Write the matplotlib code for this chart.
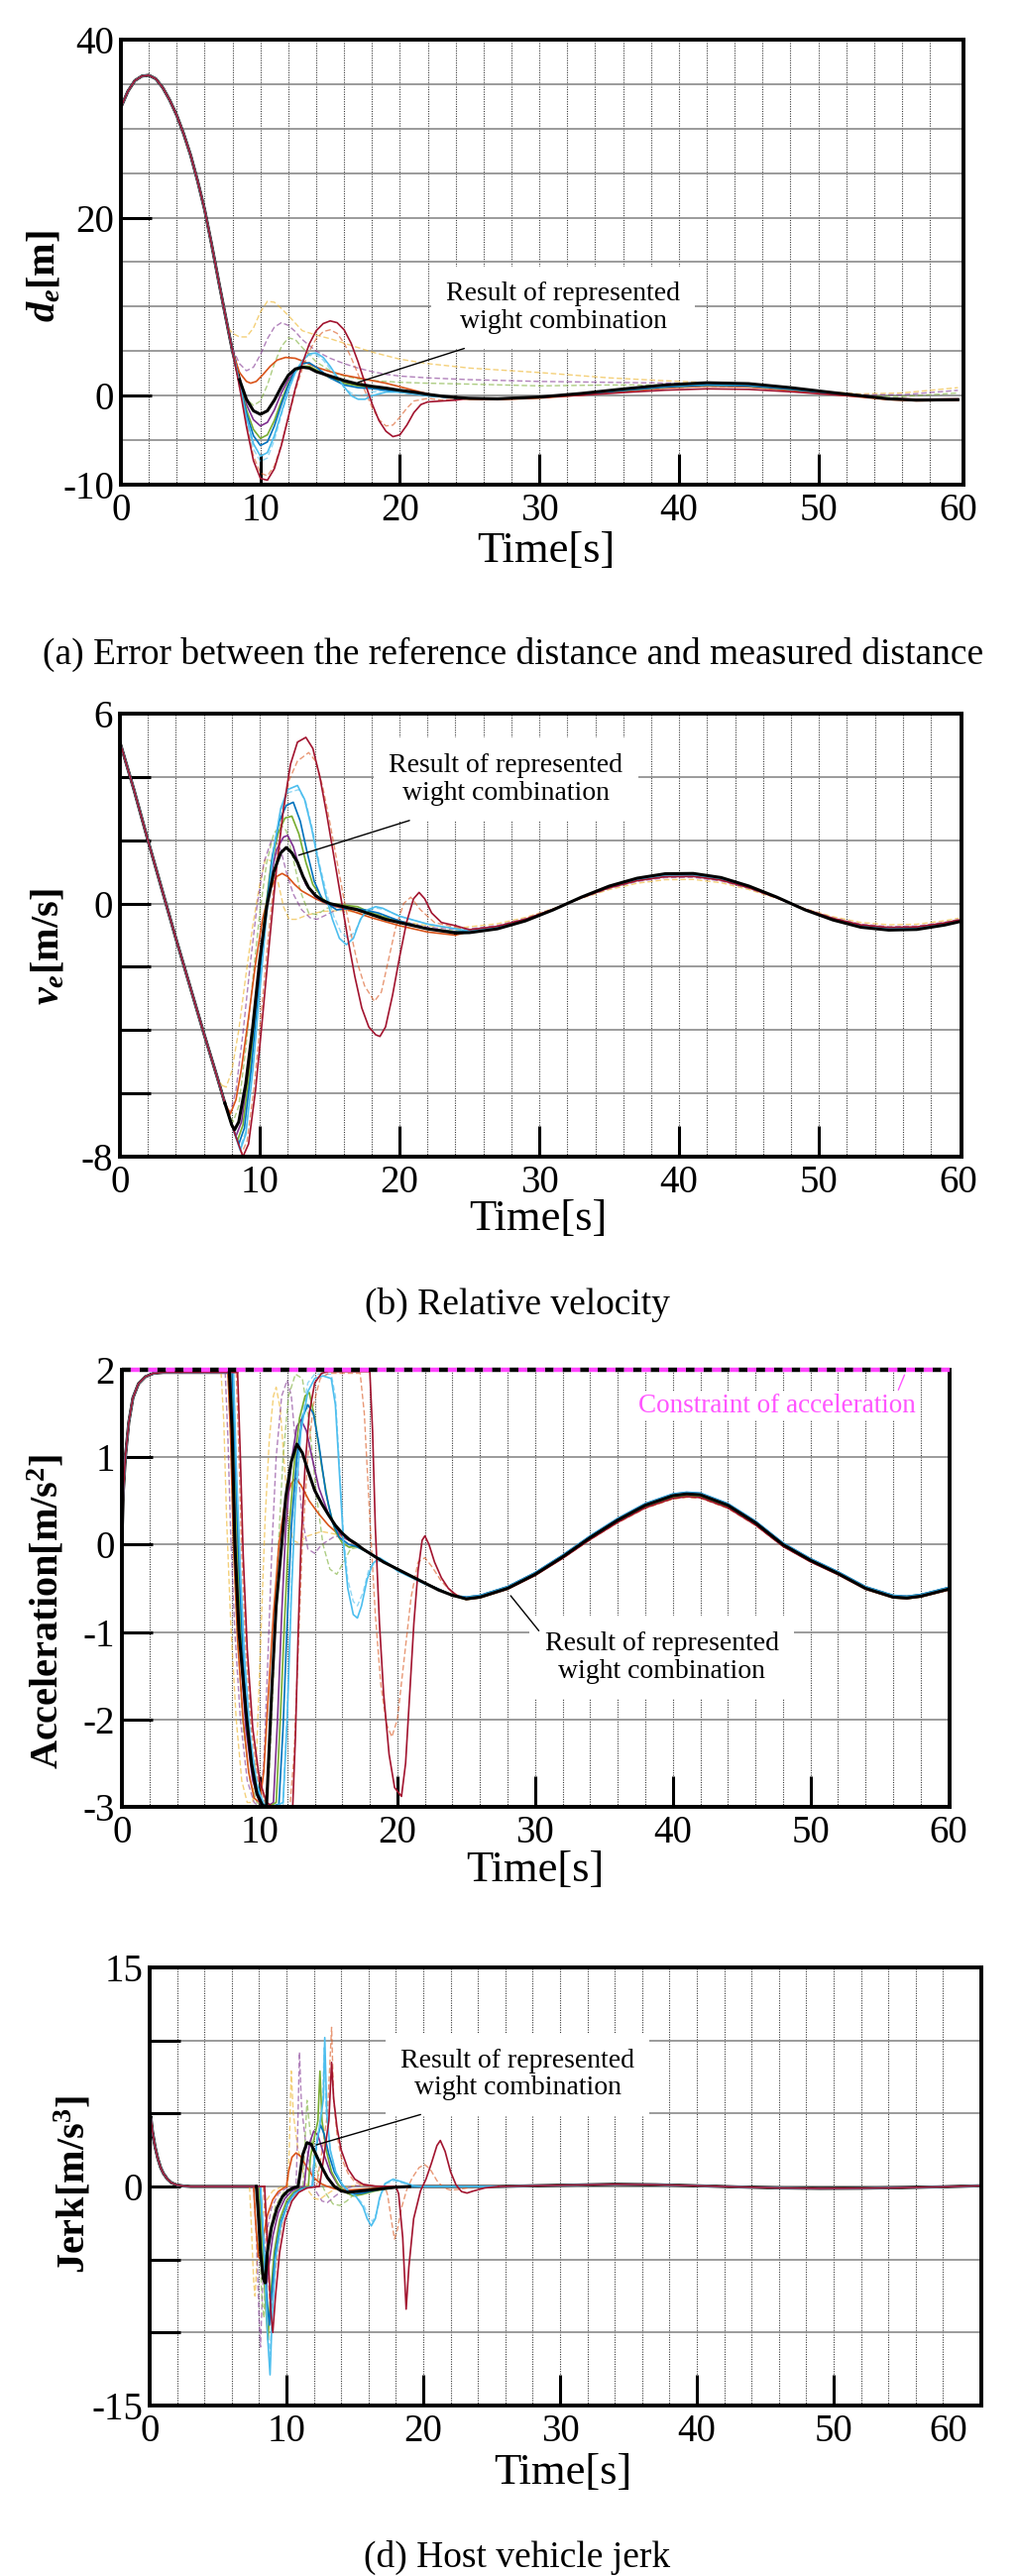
import numpy as np
import matplotlib.pyplot as plt

plt.rcParams['font.family'] = ['Liberation Serif', 'DejaVu Serif']
plt.rcParams['mathtext.fontset'] = 'custom'
plt.rcParams['mathtext.it'] = 'Liberation Serif:italic:bold'
plt.rcParams['mathtext.rm'] = 'Liberation Serif:bold'
plt.rcParams['mathtext.bf'] = 'Liberation Serif:bold'

W, H = 1027, 2599

# draw order: dashed runs first, solid runs, the represented (black) run on top
names = ['y_d', 'p_d', 'g_d', 'c_d', 'o_d', 'orange', 'purple', 'green', 'blue', 'cyan', 'red', 'black']
colors = ['#EDB120', '#7E2F8E', '#77AC30', '#4DBEEE', '#D95319',
          '#D95319', '#7E2F8E', '#77AC30', '#0072BD', '#4DBEEE', '#A2142F', 'black']

# ---------------- (a) distance error d_e [m] ----------------
de_head_t = [0, 0.5, 1, 1.5, 2, 2.5, 3, 3.5, 4, 4.5, 5, 5.5, 6, 6.5, 7, 7.5, 8]
de_head_v = [32.4, 34.2, 35.4, 35.9, 36.0, 35.6, 34.6, 33.2, 31.5, 29.4, 27.0, 24.1, 20.9, 17.0, 12.9, 8.9, 5.0]
de_tail_t = [25, 27, 30, 33, 36, 39, 42, 45, 48, 51, 53, 55, 57, 60]
de_tail_v = [-0.3, -0.35, -0.15, 0.25, 0.75, 1.2, 1.45, 1.35, 0.9, 0.35, 0.0, -0.35, -0.5, -0.45]
de_tail_gain = [1, 1, 1, 0.9, 0.8, 0.85, 0.9, 0.85, 0.85, 0.9, 0.6, 1]
de_tail_off = [0, 0, 0, -0.05, -0.1, -0.15, -0.05, -0.05, -0.05, 0.0, -0.1, 0]

de_black = [(8.5, 1.8), (9, -0.4), (9.5, -1.7), (10, -2.1), (10.5, -1.7), (11, -0.5), (11.5, 1.0), (12, 2.3),
            (12.5, 3.0), (13, 3.2), (13.5, 3.1), (14, 2.7), (15, 2.2), (16, 1.7), (17, 1.3), (18, 1.05),
            (19, 0.85), (20, 0.6), (21, 0.4), (22, 0.15), (23, -0.05), (24, -0.2)]
de_orange = [(8.5, 2.6), (9, 1.6), (9.3, 1.4), (9.7, 1.6), (10.2, 2.4), (10.7, 3.3), (11.2, 4.0), (11.8, 4.3),
             (12.5, 4.2), (13, 3.9), (14, 3.2), (15, 2.7), (16, 2.3), (17, 2.0), (18, 1.7), (19, 1.4),
             (20, 1.0), (21, 0.6), (22, 0.2), (23, -0.1), (24, -0.3)]
de_purple = [(8.5, 1.6), (9, -1.0), (9.5, -2.7), (10, -3.4), (10.5, -3.0), (11, -1.6), (11.5, 0.3), (12, 1.8),
             (12.5, 2.8), (13, 3.2), (13.5, 3.1), (14, 2.8), (15, 2.0), (16, 1.5), (17, 1.2), (18, 1.0),
             (19, 0.8), (20, 0.5), (22, 0.0), (24, -0.25)]
de_green = [(8.5, 1.5), (9, -1.6), (9.5, -3.8), (10, -4.8), (10.5, -4.4), (11, -2.8), (11.5, -0.6), (12, 1.4),
            (12.5, 2.7), (13, 3.3), (13.5, 3.3), (14, 2.9), (15, 2.0), (16, 1.4), (17, 1.1), (18, 0.9),
            (19, 0.7), (20, 0.5), (22, 0.0), (24, -0.25)]
de_blue = [(8.5, 1.4), (9, -2.0), (9.5, -4.5), (10, -5.6), (10.5, -5.2), (11, -3.4), (11.5, -1.0), (12, 1.2),
           (12.5, 2.8), (13, 3.6), (13.5, 3.7), (14, 3.2), (15, 2.0), (16, 1.2), (17, 0.9), (18, 0.8),
           (19, 0.6), (20, 0.4), (22, 0.0), (24, -0.25)]
de_cyan = [(8.5, 1.3), (9, -2.5), (9.5, -5.4), (10, -6.8), (10.5, -6.4), (11, -4.5), (11.5, -1.9), (12, 0.6),
           (12.5, 2.6), (13, 3.9), (13.5, 4.7), (14, 4.8), (14.5, 4.3), (15, 3.3), (15.5, 2.1), (16, 1.0),
           (16.5, 0.0), (17, -0.4), (17.5, -0.4), (18, 0.0), (19, 0.4), (20, 0.4), (22, 0.0), (24, -0.25)]
de_red = [(8.5, 1.0), (9, -3.5), (9.5, -7.3), (10, -9.3), (10.5, -9.5), (11, -8.2), (11.5, -5.6), (12, -2.4),
          (12.5, 0.8), (13, 3.6), (13.5, 5.8), (14, 7.3), (14.5, 8.1), (15, 8.4), (15.5, 8.2), (16, 7.4),
          (16.5, 5.9), (17, 3.8), (17.5, 1.4), (18, -0.9), (18.5, -2.8), (19, -4.0), (19.5, -4.6), (20, -4.4),
          (20.5, -3.3), (21, -1.9), (21.5, -1.0), (22, -0.7), (23, -0.6), (24, -0.5)]
de_y_d = [(7.7, 7.6), (8, 7.0), (8.5, 6.6), (9, 6.6), (9.5, 7.6), (10, 9.4), (10.5, 10.6), (11, 10.5),
          (11.5, 9.8), (12, 9.0), (13, 7.3), (14, 6.8), (15, 6.4), (16, 5.9), (17, 5.4), (18, 4.9), (19, 4.5),
          (20, 4.1), (22, 3.6), (25, 3.1), (30, 2.6), (35, 2.0), (40, 1.6), (45, 1.3), (50, 0.5), (53, 0.2),
          (56, 0.3), (60, 0.9)]
de_p_d = [(8, 5.3), (8.5, 3.6), (9, 2.8), (9.5, 3.2), (10, 4.6), (10.5, 6.4), (11, 7.7), (11.5, 8.2), (12, 7.9),
          (12.5, 7.2), (13, 6.3), (14, 5.0), (15, 4.2), (16, 3.6), (17, 3.1), (18, 2.7), (19, 2.4), (20, 2.2),
          (22, 2.0), (25, 1.8), (30, 1.6), (35, 1.5), (40, 1.4), (45, 1.3), (50, 0.5), (53, 0.1), (56, 0.1),
          (60, 0.6)]
de_g_d = [(8.5, 1.8), (9, -0.4), (9.5, -1.1), (10, -0.6), (10.5, 1.2), (11, 3.6), (11.5, 5.5), (12, 6.5),
          (12.5, 6.3), (13, 5.4), (14, 3.8), (15, 2.8), (16, 2.2), (17, 1.9), (18, 1.7), (20, 1.5), (22, 1.4),
          (25, 1.3), (30, 1.1), (35, 1.2), (40, 1.2), (45, 1.1), (50, 0.5), (53, 0.0), (56, -0.1), (60, 0.3)]
de_c_d = [(8.5, 1.2), (9, -2.8), (9.5, -6.0), (10, -7.4), (10.5, -7.0), (11, -5.0), (11.5, -2.2), (12, 0.5),
          (12.5, 2.6), (13, 4.0), (13.5, 4.6), (14, 4.6), (14.5, 4.0), (15, 3.0), (15.5, 1.9), (16, 0.9),
          (16.5, 0.3), (17, 0.0), (17.5, 0.1), (18, 0.4), (19, 0.6), (20, 0.5), (22, 0.0), (24, -0.2)]
de_o_d = [(8.5, 1.1), (9, -3.2), (9.5, -6.8), (10, -8.7), (10.5, -9.0), (11, -7.9), (11.5, -5.5), (12, -2.5),
          (12.5, 0.5), (13, 3.0), (13.5, 5.0), (14, 6.4), (14.5, 7.2), (15, 7.4), (15.5, 7.0), (16, 5.9),
          (16.5, 4.3), (17, 2.4), (17.5, 0.5), (18, -1.3), (18.5, -2.7), (19, -3.4), (19.5, -3.3), (20, -2.4),
          (20.5, -1.4), (21, -0.6), (22, -0.3), (23, -0.5), (24, -0.4)]

# ---------------- (b) relative velocity v_e [m/s] ----------------
ve_head_t = [0, 1, 2, 3, 4, 5, 6, 7]
ve_head_v = [5.1, 3.6, 2.0, 0.45, -1.1, -2.6, -4.1, -5.55]
ve_tail_t = [25, 27, 29, 31, 33, 35, 37, 39, 41, 43, 45, 47, 49, 51, 53, 55, 57, 59, 60]
ve_tail_v = [-0.92, -0.8, -0.55, -0.2, 0.2, 0.55, 0.8, 0.94, 0.95, 0.82, 0.55, 0.2, -0.2, -0.52, -0.75,
             -0.84, -0.82, -0.68, -0.58]
ve_tail_gain = [0.8, 0.87, 0.92, 0.95, 0.93, 0.96, 0.95, 0.97, 0.96, 0.94, 0.9, 1]
ve_tail_off = [0.0, 0.0, 0.0, 0.0, 0.0, 0.0, 0.0, 0.0, 0.0, 0.0, 0.0, 0.0]

ve_black = [(7.5, -6.3), (8.0, -7.0), (8.2, -7.15), (8.5, -6.9), (9, -5.7), (9.5, -3.9), (10, -1.8), (10.5, -0.1),
            (11, 1.0), (11.5, 1.6), (11.9, 1.77), (12.3, 1.6), (12.7, 1.3), (13.1, 0.85), (13.5, 0.5),
            (14, 0.25), (14.5, 0.1), (15, 0.0), (16, -0.1), (17, -0.2), (18, -0.35), (19, -0.5), (20, -0.6),
            (22, -0.8), (24, -0.93)]
ve_orange = [(7.5, -6.3), (7.9, -6.65), (8.3, -6.2), (8.7, -5.2), (9.2, -3.6), (9.7, -1.9), (10.2, -0.5),
             (10.7, 0.4), (11.2, 0.85), (11.6, 0.95), (12, 0.85), (12.5, 0.6), (13, 0.4), (14, 0.15), (15, -0.05),
             (16, -0.15), (17, -0.3), (18, -0.45), (20, -0.7), (22, -0.9), (24, -1.0)]
ve_purple = [(7.5, -6.3), (8, -7.0), (8.3, -7.35), (8.7, -6.9), (9.2, -5.3), (9.7, -3.2), (10.2, -1.0),
             (10.7, 0.7), (11.2, 1.7), (11.7, 2.1), (12.0, 2.15), (12.4, 1.8), (12.8, 1.2), (13.3, 0.6),
             (14, 0.2), (15, -0.05), (16, -0.12), (17, -0.2), (18, -0.35), (20, -0.6), (22, -0.8), (24, -0.9)]
ve_green = [(7.5, -6.3), (8, -7.0), (8.4, -7.5), (8.8, -7.0), (9.3, -5.2), (9.8, -2.9), (10.3, -0.6),
            (10.8, 1.2), (11.3, 2.2), (11.8, 2.7), (12.3, 2.76), (12.8, 2.2), (13.3, 1.3), (13.8, 0.6),
            (14.5, 0.15), (15, 0.0), (16, -0.05), (17, -0.1), (18, -0.3), (20, -0.6), (22, -0.8), (24, -0.9)]
ve_blue = [(7.5, -6.3), (8, -7.0), (8.5, -7.6), (8.9, -7.1), (9.4, -5.2), (9.9, -2.8), (10.4, -0.4),
           (10.9, 1.5), (11.4, 2.6), (11.9, 3.1), (12.4, 3.2), (12.9, 2.6), (13.4, 1.6), (13.9, 0.7),
           (14.5, 0.1), (15.5, -0.2), (16.5, -0.15), (17.5, -0.2), (18.5, -0.3), (20, -0.55), (22, -0.8),
           (24, -0.9)]
ve_cyan = [(7.5, -6.3), (8, -7.0), (8.6, -7.8), (9.0, -7.3), (9.5, -5.3), (10, -2.8), (10.5, -0.3), (11, 1.7),
           (11.5, 3.0), (12, 3.6), (12.7, 3.73), (13.2, 3.3), (13.7, 2.4), (14.2, 1.3), (14.7, 0.3),
           (15.2, -0.5), (15.7, -1.1), (16.2, -1.3), (16.7, -1.1), (17.2, -0.5), (17.7, -0.2), (18.3, -0.1),
           (18.8, -0.15), (19.5, -0.3), (20, -0.4), (22, -0.65), (24, -0.8)]
ve_red = [(7.5, -6.3), (8, -7.0), (8.8, -8.0), (9.2, -7.6), (9.7, -5.9), (10.2, -3.6), (10.7, -1.2),
          (11.2, 1.1), (11.7, 3.0), (12.2, 4.4), (12.7, 5.1), (13.3, 5.25), (13.8, 4.9), (14.3, 4.0),
          (14.8, 2.8), (15.3, 1.5), (15.8, 0.2), (16.3, -1.1), (16.8, -2.3), (17.3, -3.3), (17.8, -3.9),
          (18.3, -4.15), (18.6, -4.2), (19, -3.9), (19.5, -2.9), (20, -1.7), (20.5, -0.6), (21, 0.15),
          (21.4, 0.35), (21.8, 0.15), (22.3, -0.3), (23, -0.6), (24, -0.7)]
ve_y_d = [(7.3, -5.75), (7.6, -5.8), (8.0, -5.3), (8.5, -4.0), (9.0, -2.3), (9.5, -0.7), (10, 0.6),
          (10.4, 1.4), (10.8, 1.35), (11.3, 0.7), (11.7, -0.1), (12.1, -0.5), (12.6, -0.5), (13.5, -0.35),
          (14.5, -0.25), (16, -0.22), (18, -0.35), (20, -0.55), (22, -0.7), (24, -0.78)]
ve_p_d = [(7.5, -6.3), (7.9, -6.6), (8.3, -5.9), (8.8, -4.1), (9.3, -2.0), (9.8, -0.1), (10.3, 1.3),
          (10.8, 1.95), (11.1, 2.0), (11.5, 1.7), (11.9, 1.0), (12.4, 0.3), (13, -0.2), (13.6, -0.45),
          (14.1, -0.5), (14.8, -0.35), (15.5, -0.2), (16.5, -0.12), (17.5, -0.2), (18.5, -0.35), (20, -0.55),
          (22, -0.75), (24, -0.82)]
ve_g_d = [(7.5, -6.3), (8.1, -6.9), (8.5, -6.4), (9.0, -4.6), (9.5, -2.4), (10.0, -0.3), (10.5, 1.3),
          (11.0, 2.2), (11.5, 2.5), (11.9, 2.3), (12.4, 1.4), (12.9, 0.4), (13.5, -0.3), (14.1, -0.35),
          (14.8, -0.15), (15.5, -0.1), (16.5, -0.1), (17.5, -0.2), (18.5, -0.35), (20, -0.55), (22, -0.8),
          (24, -0.86)]
ve_c_d = [(7.5, -6.3), (8, -7.0), (8.6, -7.7), (9.0, -7.2), (9.5, -5.2), (10, -2.7), (10.5, -0.2), (11, 1.7),
          (11.5, 2.9), (12, 3.5), (12.8, 3.6), (13.3, 3.2), (13.8, 2.3), (14.3, 1.2), (14.8, 0.3),
          (15.3, -0.4), (15.8, -0.9), (16.3, -1.1), (16.8, -0.9), (17.3, -0.45), (17.8, -0.2), (18.4, -0.15),
          (19, -0.2), (20, -0.4), (22, -0.65), (24, -0.8)]
ve_o_d = [(7.5, -6.3), (8, -7.0), (8.7, -7.9), (9.1, -7.5), (9.6, -5.8), (10.1, -3.5), (10.6, -1.1),
          (11.1, 1.0), (11.6, 2.7), (12.1, 3.9), (12.7, 4.5), (13.5, 4.77), (14.0, 4.5), (14.5, 3.7),
          (15.0, 2.6), (15.5, 1.4), (16.0, 0.2), (16.5, -0.9), (17.0, -1.9), (17.5, -2.6), (18.2, -3.09),
          (18.7, -2.8), (19.2, -1.8), (19.7, -0.8), (20.3, 0.0), (20.8, 0.2), (21.5, -0.2), (22.5, -0.6),
          (24, -0.75)]

# ---------------- (c) host acceleration [m/s^2] ----------------
acc_limit = 2.0
acc_head_t = [0, 0.1, 0.25, 0.5, 0.8, 1.2, 1.7, 2.3, 3, 7.2]
acc_head_v = [0, 0.6, 1.0, 1.4, 1.68, 1.84, 1.92, 1.96, 1.97, 1.97]
acc_tail_t = [25, 26, 28, 30, 32, 34, 36, 38, 40, 41, 42, 44, 46, 48, 50, 52, 54, 56, 57, 58, 60]
acc_tail_v = [-0.62, -0.6, -0.5, -0.34, -0.14, 0.08, 0.28, 0.45, 0.56, 0.58, 0.57, 0.45, 0.25, 0.0, -0.18,
              -0.33, -0.5, -0.6, -0.61, -0.59, -0.51]
acc_tail_gain = [0.97, 0.98, 0.98, 0.99, 0.97, 0.98, 0.99, 0.99, 1.0, 1.0, 0.98, 1]
acc_tail_off = [-0.02, -0.015, 0.01, 0.015, -0.02, -0.01, 0.01, -0.015, 0.02, 0.015, -0.02, 0]

acc_black = [(7.8, 1.97), (8.0, 1.3), (8.2, 0.0), (8.5, -1.0), (9.0, -1.9), (9.4, -2.5), (9.8, -2.85),
             (10.2, -2.98), (10.5, -3.0), (10.9, -1.6), (11.2, -0.7), (11.6, 0.0), (11.9, 0.55), (12.3, 0.95),
             (12.7, 1.15), (13.1, 1.05), (13.5, 0.85), (14, 0.62), (14.5, 0.47), (15, 0.34), (15.5, 0.22),
             (16, 0.13), (16.5, 0.06), (17, 0.01), (17.5, -0.05), (18, -0.1), (19, -0.2), (20, -0.28),
             (21, -0.36), (22, -0.44), (23, -0.52), (24, -0.58)]
acc_orange = [(7.7, 1.97), (7.9, 1.2), (8.1, 0.0), (8.4, -1.1), (8.8, -2.0), (9.2, -2.6), (9.6, -2.9),
              (10.0, -2.95), (10.3, -2.6), (10.6, -1.8), (11.0, -0.8), (11.4, 0.0), (11.8, 0.45), (12.3, 0.7),
              (12.6, 0.76), (13, 0.68), (13.6, 0.5), (14.3, 0.35), (15, 0.22), (15.5, 0.15), (16, 0.1),
              (16.5, 0.05), (17, 0.0), (18, -0.1), (19, -0.2), (20, -0.28), (22, -0.44), (24, -0.58)]
acc_purple = [(7.9, 1.97), (8.1, 1.1), (8.3, -0.1), (8.6, -1.2), (9.0, -2.1), (9.5, -2.7), (10.0, -2.95),
              (10.5, -3.0), (11.0, -2.95), (11.3, -2.0), (11.6, -0.8), (11.9, 0.2), (12.3, 0.95), (12.7, 1.35),
              (13.0, 1.43), (13.4, 1.3), (13.8, 1.0), (14.3, 0.65), (15, 0.35), (15.5, 0.2), (16, 0.1),
              (17, 0.0), (18, -0.1), (20, -0.28), (22, -0.44), (24, -0.58)]
acc_green = [(8.0, 1.97), (8.2, 1.0), (8.4, -0.1), (8.7, -1.2), (9.1, -2.1), (9.6, -2.7), (10.1, -2.95),
             (10.6, -3.0), (11.2, -2.95), (11.5, -2.0), (11.8, -0.9), (12.1, 0.1), (12.5, 0.9), (12.9, 1.45),
             (13.3, 1.7), (13.6, 1.74), (14.0, 1.45), (14.5, 0.9), (15, 0.45), (15.5, 0.15), (16, 0.02),
             (16.5, -0.03), (17, -0.02), (18, -0.1), (20, -0.28), (22, -0.44), (24, -0.58)]
acc_blue = [(8.0, 1.97), (8.25, 0.9), (8.5, -0.2), (8.8, -1.3), (9.2, -2.2), (9.7, -2.75), (10.2, -2.97),
            (10.8, -3.0), (11.4, -2.97), (11.7, -2.1), (12.0, -0.9), (12.3, 0.2), (12.7, 1.0), (13.1, 1.45),
            (13.5, 1.6), (13.9, 1.5), (14.3, 1.15), (14.8, 0.6), (15.3, 0.25), (15.8, 0.08), (16.5, 0.0),
            (17, -0.02), (18, -0.1), (20, -0.28), (22, -0.44), (24, -0.58)]
acc_cyan = [(8.1, 1.97), (8.3, 0.9), (8.6, -0.3), (8.9, -1.3), (9.3, -2.2), (9.8, -2.75), (10.3, -2.97),
            (11.0, -3.0), (11.7, -2.95), (12.0, -2.0), (12.3, -0.6), (12.6, 0.5), (13.0, 1.3), (13.5, 1.75),
            (14.0, 1.9), (14.6, 1.93), (15.2, 1.9), (15.5, 1.6), (15.8, 0.8), (16.1, 0.0), (16.4, -0.5),
            (16.8, -0.8), (17.1, -0.84), (17.4, -0.7), (17.8, -0.4), (18.2, -0.22), (18.7, -0.15),
            (19.2, -0.2), (20, -0.3), (22, -0.45), (24, -0.58)]
acc_red = [(8.4, 1.97), (8.6, 1.0), (8.8, -0.1), (9.1, -1.2), (9.5, -2.1), (10.0, -2.7), (10.5, -2.95),
           (11.0, -3.0), (12.4, -3.0), (12.6, -2.2), (12.8, -1.0), (13.0, 0.0), (13.3, 0.9), (13.6, 1.5),
           (14.0, 1.85), (14.5, 1.96), (15, 1.98), (18.0, 1.98), (18.2, 1.3), (18.4, 0.2), (18.7, -0.9),
           (19.0, -1.7), (19.4, -2.4), (19.8, -2.78), (20.3, -2.88), (20.6, -2.5), (20.9, -1.7), (21.2, -0.9),
           (21.5, -0.3), (21.8, 0.05), (22.0, 0.1), (22.3, 0.0), (22.7, -0.2), (23.2, -0.38), (23.7, -0.5),
           (24.3, -0.58)]
acc_y_d = [(7.2, 1.97), (7.4, 1.4), (7.6, 0.3), (7.9, -0.9), (8.3, -2.0), (8.7, -2.7), (9.1, -2.95),
           (9.5, -2.95), (9.8, -2.3), (10.1, -1.0), (10.4, 0.3), (10.7, 1.2), (11.0, 1.7), (11.2, 1.8),
           (11.5, 1.55), (11.8, 0.9), (12.1, 0.3), (12.4, 0.05), (12.8, 0.02), (13.5, 0.1), (14.5, 0.15),
           (15.5, 0.12), (16.5, 0.05), (17.5, -0.05), (18, -0.1), (20, -0.28), (22, -0.44), (24, -0.58)]
acc_p_d = [(7.5, 1.97), (7.7, 1.2), (7.9, 0.1), (8.2, -1.0), (8.6, -2.0), (9.1, -2.7), (9.6, -2.95),
           (10.0, -3.0), (10.3, -2.5), (10.6, -1.3), (10.9, 0.0), (11.2, 1.0), (11.6, 1.7), (12.0, 1.88),
           (12.3, 1.7), (12.7, 1.0), (13.1, 0.3), (13.5, -0.05), (14, -0.1), (14.5, 0.0), (15.5, 0.1),
           (16.5, 0.05), (17.5, -0.05), (18, -0.1), (20, -0.28), (22, -0.44), (24, -0.58)]
acc_g_d = [(7.7, 1.97), (7.9, 1.2), (8.1, 0.0), (8.4, -1.1), (8.8, -2.1), (9.3, -2.7), (9.8, -2.95),
           (10.3, -3.0), (10.7, -2.6), (11.0, -1.5), (11.3, -0.2), (11.7, 1.0), (12.1, 1.7), (12.6, 1.95),
           (13.1, 1.9), (13.6, 1.4), (14.1, 0.6), (14.6, 0.0), (15.1, -0.28), (15.6, -0.34), (16.1, -0.2),
           (16.6, -0.05), (17.2, -0.03), (18, -0.1), (20, -0.28), (22, -0.44), (24, -0.58)]
acc_c_d = [(8.1, 1.97), (8.3, 0.9), (8.6, -0.3), (9.0, -1.5), (9.5, -2.4), (10.0, -2.85), (10.6, -3.0),
           (11.7, -3.0), (12.0, -1.9), (12.3, -0.5), (12.6, 0.6), (13.0, 1.4), (13.5, 1.85), (14.0, 1.95),
           (15.2, 1.95), (15.5, 1.7), (15.8, 0.9), (16.1, 0.1), (16.4, -0.4), (16.8, -0.65), (17.1, -0.7),
           (17.5, -0.55), (17.9, -0.3), (18.4, -0.2), (19, -0.18), (20, -0.3), (22, -0.45), (24, -0.58)]
acc_o_d = [(8.3, 1.97), (8.5, 1.0), (8.7, -0.1), (9.0, -1.2), (9.4, -2.1), (9.9, -2.7), (10.4, -2.95),
           (11, -3.0), (12.2, -3.0), (12.5, -2.4), (12.8, -1.2), (13.1, 0.0), (13.5, 1.0), (13.9, 1.6),
           (14.4, 1.9), (15, 1.96), (17.3, 1.96), (17.6, 1.5), (18.0, 0.3), (18.4, -0.8), (18.8, -1.6),
           (19.2, -2.05), (19.6, -2.2), (20.0, -2.0), (20.5, -1.3), (21.0, -0.6), (21.5, -0.2), (22.0, -0.15),
           (22.5, -0.25), (23.2, -0.42), (24, -0.55)]

# ---------------- (d) host jerk [m/s^3] ----------------
jerk_head_t = [0, 0.08, 0.2, 0.4, 0.6, 0.8, 1.0, 1.3, 1.6, 2.0, 2.5, 3]
jerk_head_v = [0, 4.8, 3.8, 2.7, 1.9, 1.3, 0.9, 0.5, 0.25, 0.1, 0.03, 0.0]
jerk_tail_t = [25.5, 28, 31, 34, 37, 40, 43, 46, 49, 52, 55, 58, 60.8]
jerk_tail_v = [0.0, 0.05, 0.1, 0.15, 0.12, 0.05, -0.03, -0.1, -0.13, -0.12, -0.08, -0.02, 0.05]
jerk_tail_gain = [1.0] * 12
jerk_tail_off = [0.0] * 12

jerk_black = [(7.8, 0), (7.95, -2.0), (8.1, -4.5), (8.3, -6.3), (8.45, -6.6), (8.6, -4.5), (8.9, -2.8),
              (9.3, -1.5), (9.7, -0.7), (10.1, -0.3), (10.5, -0.1), (10.85, 0.0), (10.95, 0.6), (11.2, 2.2),
              (11.5, 3.0), (11.8, 2.9), (12.2, 2.1), (12.6, 1.3), (13.0, 0.6), (13.5, 0.0), (14.0, -0.3),
              (14.5, -0.4), (15.0, -0.35), (16.0, -0.25), (17, -0.15), (18, -0.05), (19, 0.0)]
jerk_orange = [(7.6, 0), (7.75, -2.5), (7.95, -4.8), (8.1, -5.0), (8.3, -3.5), (8.6, -2.0), (9.0, -0.9),
               (9.4, -0.35), (9.8, -0.1), (10.0, 0.0), (10.15, 1.0), (10.4, 2.0), (10.7, 2.3), (11.0, 2.1),
               (11.5, 1.3), (12.0, 0.6), (12.5, 0.2), (13.0, 0.0), (13.5, -0.15), (14.5, -0.25), (16, -0.15),
               (18, 0.0)]
jerk_purple = [(7.9, 0), (8.1, -3.0), (8.35, -6.5), (8.5, -7.0), (8.7, -5.5), (9.0, -3.4), (9.4, -1.8),
               (9.9, -0.8), (10.4, -0.3), (10.9, -0.1), (11.3, 0.0), (11.4, 1.0), (11.7, 3.0), (12.0, 3.8),
               (12.3, 3.5), (12.7, 2.3), (13.2, 1.0), (13.7, 0.2), (14.2, -0.3), (14.7, -0.55), (15.3, -0.5),
               (16.2, -0.3), (17.5, -0.1), (19, 0.0)]
jerk_green = [(8.0, 0), (8.2, -3.5), (8.5, -8.5), (8.65, -10.5), (8.8, -8.0), (9.1, -4.5), (9.5, -2.3),
              (10.0, -1.0), (10.5, -0.4), (11.0, -0.15), (11.6, 0.0), (11.75, 2.0), (12.0, 3.2), (12.3, 4.5),
              (12.45, 7.9), (12.6, 4.5), (12.9, 2.5), (13.3, 1.0), (13.8, 0.1), (14.3, -0.4), (14.9, -0.65),
              (15.5, -0.55), (16.5, -0.3), (18, -0.05), (19, 0.0)]
jerk_blue = [(8.1, 0), (8.3, -3.5), (8.6, -8.0), (8.75, -9.5), (8.9, -7.5), (9.2, -4.5), (9.6, -2.4),
             (10.1, -1.1), (10.6, -0.45), (11.1, -0.15), (11.9, 0.0), (12.0, 1.5), (12.3, 3.5), (12.5, 4.2),
             (12.75, 3.6), (13.1, 2.2), (13.5, 1.0), (14.0, 0.2), (14.5, -0.3), (15.0, -0.5), (15.6, -0.45),
             (16.5, -0.25), (18, -0.05), (19, 0.0)]
jerk_cyan = [(8.1, 0), (8.35, -4.0), (8.6, -10.0), (8.8, -12.9), (8.95, -9.0), (9.2, -5.0), (9.6, -2.6),
             (10.1, -1.2), (10.6, -0.5), (11.1, -0.2), (11.9, 0.0), (12.05, 2.0), (12.4, 4.0), (12.7, 6.0),
             (12.8, 10.2), (12.95, 5.0), (13.2, 2.5), (13.6, 1.0), (14.1, 0.1), (14.6, -0.4), (15.1, -0.7),
             (15.6, -1.4), (15.9, -2.2), (16.2, -2.7), (16.5, -2.2), (16.8, -0.8), (17.2, 0.2), (17.8, 0.5),
             (18.5, 0.3), (19.3, 0.05), (20, 0.0)]
jerk_red = [(8.4, 0), (8.6, -3.5), (8.85, -8.5), (9.0, -10.0), (9.2, -7.5), (9.5, -4.5), (9.9, -2.3),
            (10.4, -1.0), (10.9, -0.4), (11.5, -0.1), (12.4, 0.0), (12.5, 0.5), (12.8, 2.5), (13.1, 4.5),
            (13.3, 8.5), (13.45, 6.0), (13.7, 4.0), (14.0, 2.5), (14.5, 1.2), (15.0, 0.5), (15.6, 0.15),
            (16.5, 0.02), (18.0, 0.0), (18.2, -0.5), (18.5, -3.5), (18.75, -8.4), (18.95, -5.5), (19.3, -2.2),
            (19.8, -0.3), (20.2, 0.5), (20.6, 1.6), (21.0, 2.8), (21.25, 3.15), (21.6, 2.4), (22.0, 1.0),
            (22.4, 0.1), (22.8, -0.35), (23.2, -0.45), (23.7, -0.3), (24.5, -0.1), (25.5, 0.0)]
jerk_y_d = [(7.3, 0), (7.45, -3.0), (7.6, -6.5), (7.7, -7.5), (7.85, -5.0), (8.1, -2.5), (8.5, -1.0),
            (9.0, -0.3), (9.6, -0.05), (10.1, 0.0), (10.2, 2.5), (10.35, 7.9), (10.5, 5.0), (10.8, 2.8),
            (11.2, 1.0), (11.6, -0.3), (12.0, -0.8), (12.4, -0.9), (13.0, -0.5), (13.5, -0.2), (14.5, 0.0),
            (15.5, 0.1), (17, 0.0)]
jerk_p_d = [(7.6, 0), (7.8, -3.5), (8.0, -9.0), (8.1, -11.0), (8.25, -7.0), (8.5, -3.5), (8.9, -1.5),
            (9.4, -0.5), (10.0, -0.1), (10.7, 0.0), (10.8, 3.0), (10.95, 9.2), (11.1, 5.5), (11.4, 3.0),
            (11.8, 1.0), (12.2, -0.4), (12.6, -1.0), (13.0, -1.1), (13.5, -0.7), (14.2, -0.2), (15, 0.05),
            (16, 0.05), (17, 0.0)]
jerk_g_d = [(7.8, 0), (8.0, -3.0), (8.2, -7.5), (8.35, -9.0), (8.5, -6.0), (8.8, -3.0), (9.2, -1.3),
            (9.8, -0.4), (10.5, -0.1), (11.2, 0.0), (11.35, 3.0), (11.5, 5.9), (11.7, 4.0), (12.0, 2.0),
            (12.4, 0.5), (12.9, -0.5), (13.4, -1.2), (13.9, -1.3), (14.4, -1.0), (15, -0.5), (15.8, -0.2),
            (17, -0.05), (18, 0.0)]
jerk_c_d = [(8.1, 0), (8.35, -4.0), (8.6, -9.5), (8.8, -11.5), (8.95, -8.5), (9.2, -4.8), (9.6, -2.5),
            (10.1, -1.2), (10.6, -0.5), (11.2, -0.2), (11.9, 0.0), (12.05, 2.0), (12.4, 4.0), (12.65, 6.0),
            (12.75, 9.5), (12.9, 5.0), (13.2, 2.5), (13.6, 1.0), (14.1, 0.1), (14.6, -0.4), (15.1, -0.7),
            (15.6, -1.2), (16.0, -2.0), (16.3, -2.4), (16.6, -1.8), (16.9, -0.6), (17.3, 0.2), (17.9, 0.4),
            (18.6, 0.2), (19.5, 0.0)]
jerk_o_d = [(8.3, 0), (8.5, -3.0), (8.75, -7.5), (8.9, -9.0), (9.05, -7.0), (9.4, -4.0), (9.8, -2.0),
            (10.3, -0.9), (10.8, -0.4), (11.5, -0.1), (12.2, 0.0), (12.35, 1.0), (12.7, 3.0), (13.0, 5.0),
            (13.3, 10.9), (13.45, 6.0), (13.7, 3.5), (14.0, 2.0), (14.5, 0.9), (15.0, 0.3), (15.8, 0.05),
            (17.2, 0.0), (17.4, -0.6), (17.7, -2.5), (17.9, -3.6), (18.1, -3.0), (18.4, -1.5), (18.8, -0.2),
            (19.2, 0.6), (19.7, 1.3), (20.1, 1.5), (20.5, 1.2), (21.0, 0.4), (21.5, -0.1), (22.0, -0.25),
            (22.6, -0.2), (23.5, -0.05), (24.5, 0.0)]

note = 'Result of represented\nwight combination'

fig = plt.figure(figsize=(W / 100, H / 100), dpi=100)


def panel(box, xlim, ylim, xlab, ylab, ymarks, ygrid, xgrid):
    x0, x1, y0, y1 = box
    ax = fig.add_axes([x0 / W, 1 - y1 / H, (x1 - x0) / W, (y1 - y0) / H])
    ax.set_xlim(*xlim)
    ax.set_ylim(*ylim)
    ax.set_xticks([p for p, s in xlab], [s for p, s in xlab])
    ax.set_xticks([10, 20, 30, 40, 50], minor=True)
    ax.set_yticks([p for p, s in ylab], [s for p, s in ylab])
    ax.set_yticks(ymarks, minor=True)
    ax.xaxis.remove_overlapping_locs = False
    ax.yaxis.remove_overlapping_locs = False
    ax.tick_params(which='major', length=0, labelsize=28)
    ax.tick_params(axis='x', which='major', pad=6)
    ax.tick_params(axis='y', which='major', pad=5)
    ax.tick_params(which='minor', direction='in', length=22, width=2.2, color='black')
    for g in xgrid:
        ax.axvline(g, color='#3a3a3a', lw=0.8, ls=(0, (1, 1.2)), zorder=1)
    for g in ygrid:
        ax.axhline(g, color='#8a8a8a', lw=1.2, zorder=1)
    for s in ax.spines.values():
        s.set_linewidth(2.8)
        s.set_zorder(6)
    return ax


def draw(ax, head_t, head_v, tail_t, tail_v, gain, offs, data, black_tail_low=False):
    for i, name in enumerate(names):
        pts = data[name]
        mt = [p[0] for p in pts]
        mv = [p[1] for p in pts]
        ht = [x for x in head_t if x < mt[0]]
        hv = list(head_v[:len(ht)])
        tt = [x for x in tail_t if x > mt[-1]]
        tv = [v * gain[i] + offs[i] for x, v in zip(tail_t, tail_v) if x > mt[-1]]
        segs = [(ht + mt[:1], hv + mv[:1], 'head'), (mt, mv, 'mid'), (mt[-1:] + tt, mv[-1:] + tv, 'tail')]
        for t, v, part in segs:
            if len(t) < 2:
                continue
            if name.endswith('_d'):
                ax.plot(t, v, color=colors[i], lw=1.0, ls=(0, (4, 2)), alpha=0.6, zorder=3.5)
            elif name == 'black':
                low = part == 'head' or (part == 'tail' and black_tail_low)
                ax.plot(t, v, color='black', lw=2.2, zorder=2.5 if low else 5)
            else:
                ax.plot(t, v, color=colors[i], lw=1.2, zorder=4)


def note_at(ax, txt_xy, line_from, line_to):
    ax.text(txt_xy[0], txt_xy[1], note, ha='center', va='center', fontsize=20, linespacing=1.15,
            zorder=2, bbox=dict(facecolor='white', edgecolor='none', boxstyle='square,pad=0.55'))
    ax.annotate('', xy=line_to, xytext=line_from,
                arrowprops=dict(arrowstyle='-', color='black', lw=1.0), zorder=7)


xlab60 = [(0, '0'), (10, '10'), (20, '20'), (30, '30'), (40, '40'), (50, '50'), (60, '60')]
xgrid = np.arange(2, 60, 2)

# (a)
ax = panel((122, 972, 40, 489), (0, 60.4), (-10, 40), xlab60,
           [(40, '40'), (20, '20'), (0, '0'), (-10, '-10')], [20, 0], np.arange(-5, 40, 5), xgrid)
draw(ax, de_head_t, de_head_v, de_tail_t, de_tail_v, de_tail_gain, de_tail_off,
     {'y_d': de_y_d, 'p_d': de_p_d, 'g_d': de_g_d, 'c_d': de_c_d, 'o_d': de_o_d, 'orange': de_orange,
      'purple': de_purple, 'green': de_green, 'blue': de_blue, 'cyan': de_cyan, 'red': de_red,
      'black': de_black})
note_at(ax, (31.7, 9.9), (24.8, 5.4), (16.8, 1.4))
fig.text(46 / W, 1 - 278 / H, r'$d_e$[m]', rotation=90, ha='center', va='center', fontsize=29,
         fontweight='bold')
fig.text(551 / W, 1 - 556 / H, 'Time[s]', ha='center', va='center', fontsize=32)
fig.text(518 / W, 1 - 660 / H, '(a) Error between the reference distance and measured distance',
         ha='center', va='center', fontsize=27)

# (b)
ax = panel((121, 970, 720, 1167), (0, 60.2), (-8, 6), xlab60,
           [(6, '6'), (0, '0'), (-8, '-8')], [4, 2, 0, -2, -4, -6], np.arange(-6, 6, 2), xgrid)
draw(ax, ve_head_t, ve_head_v, ve_tail_t, ve_tail_v, ve_tail_gain, ve_tail_off,
     {'y_d': ve_y_d, 'p_d': ve_p_d, 'g_d': ve_g_d, 'c_d': ve_c_d, 'o_d': ve_o_d, 'orange': ve_orange,
      'purple': ve_purple, 'green': ve_green, 'blue': ve_blue, 'cyan': ve_cyan, 'red': ve_red,
      'black': ve_black})
note_at(ax, (27.6, 3.93), (20.9, 2.65), (12.6, 1.5))
fig.text(50 / W, 1 - 955 / H, r'$v_e$[m/s]', rotation=90, ha='center', va='center', fontsize=29,
         fontweight='bold')
fig.text(543 / W, 1 - 1230 / H, 'Time[s]', ha='center', va='center', fontsize=32)
fig.text(522 / W, 1 - 1316 / H, '(b) Relative velocity', ha='center', va='center', fontsize=27)

# (c)
ax = panel((123, 958, 1382, 1823), (0, 60.1), (-3, 2), xlab60,
           [(2, '2'), (1, '1'), (0, '0'), (-1, '-1'), (-2, '-2'), (-3, '-3')], [1, 0, -1, -2],
           np.arange(-2, 2, 1), xgrid)
draw(ax, acc_head_t, acc_head_v, acc_tail_t, acc_tail_v, acc_tail_gain, acc_tail_off,
     {'y_d': acc_y_d, 'p_d': acc_p_d, 'g_d': acc_g_d, 'c_d': acc_c_d, 'o_d': acc_o_d, 'orange': acc_orange,
      'purple': acc_purple, 'green': acc_green, 'blue': acc_blue, 'cyan': acc_cyan, 'red': acc_red,
      'black': acc_black})
ax.spines['top'].set_visible(False)
ax.axhline(acc_limit, color='black', lw=3.2, ls=(0, (2, 2)), zorder=8, clip_on=False)
ax.axhline(acc_limit, color='#ff44ff', lw=3.2, ls=(2, (2, 2)), zorder=8, clip_on=False)
ax.text(47.6, 1.59, 'Constraint of acceleration', color='#ff55ff', ha='center', va='center',
        fontsize=19.5, zorder=2, bbox=dict(facecolor='white', edgecolor='none', pad=2))
ax.annotate('', xy=(56.9, 1.97), xytext=(56.3, 1.74),
            arrowprops=dict(arrowstyle='-', color='#ff55ff', lw=1.0))
note_at(ax, (39.2, -1.29), (30.4, -1.01), (28.1, -0.56))
fig.text(47 / W, 1 - 1626 / H, r'Acceleration[m/s$^2$]', rotation=90, ha='center', va='center',
         fontsize=29, fontweight='bold')
fig.text(540 / W, 1 - 1887 / H, 'Time[s]', ha='center', va='center', fontsize=32)

# (d)
ax = panel((151, 990, 1985, 2427), (0, 60.8), (-15, 15),
           [(0, '0'), (10, '10'), (20, '20'), (30, '30'), (40, '40'), (50, '50'), (58.4, '60')],
           [(15, '15'), (0, '0'), (-15, '-15')], [10, 5, 0, -5, -10], np.arange(-10, 15, 5),
           np.arange(2, 60, 2))
draw(ax, jerk_head_t, jerk_head_v, jerk_tail_t, jerk_tail_v, jerk_tail_gain, jerk_tail_off,
     {'y_d': jerk_y_d, 'p_d': jerk_p_d, 'g_d': jerk_g_d, 'c_d': jerk_c_d, 'o_d': jerk_o_d,
      'orange': jerk_orange, 'purple': jerk_purple, 'green': jerk_green, 'blue': jerk_blue,
      'cyan': jerk_cyan, 'red': jerk_red, 'black': jerk_black}, black_tail_low=True)
note_at(ax, (26.9, 7.67), (20.0, 4.98), (12.0, 2.8))
fig.text(74 / W, 1 - 2204 / H, r'Jerk[m/s$^3$]', rotation=90, ha='center', va='center', fontsize=29,
         fontweight='bold')
fig.text(568 / W, 1 - 2495 / H, 'Time[s]', ha='center', va='center', fontsize=32)
fig.text(522 / W, 1 - 2580 / H, '(d) Host vehicle jerk', ha='center', va='center', fontsize=27)

fig.savefig('out.png', dpi=100)
